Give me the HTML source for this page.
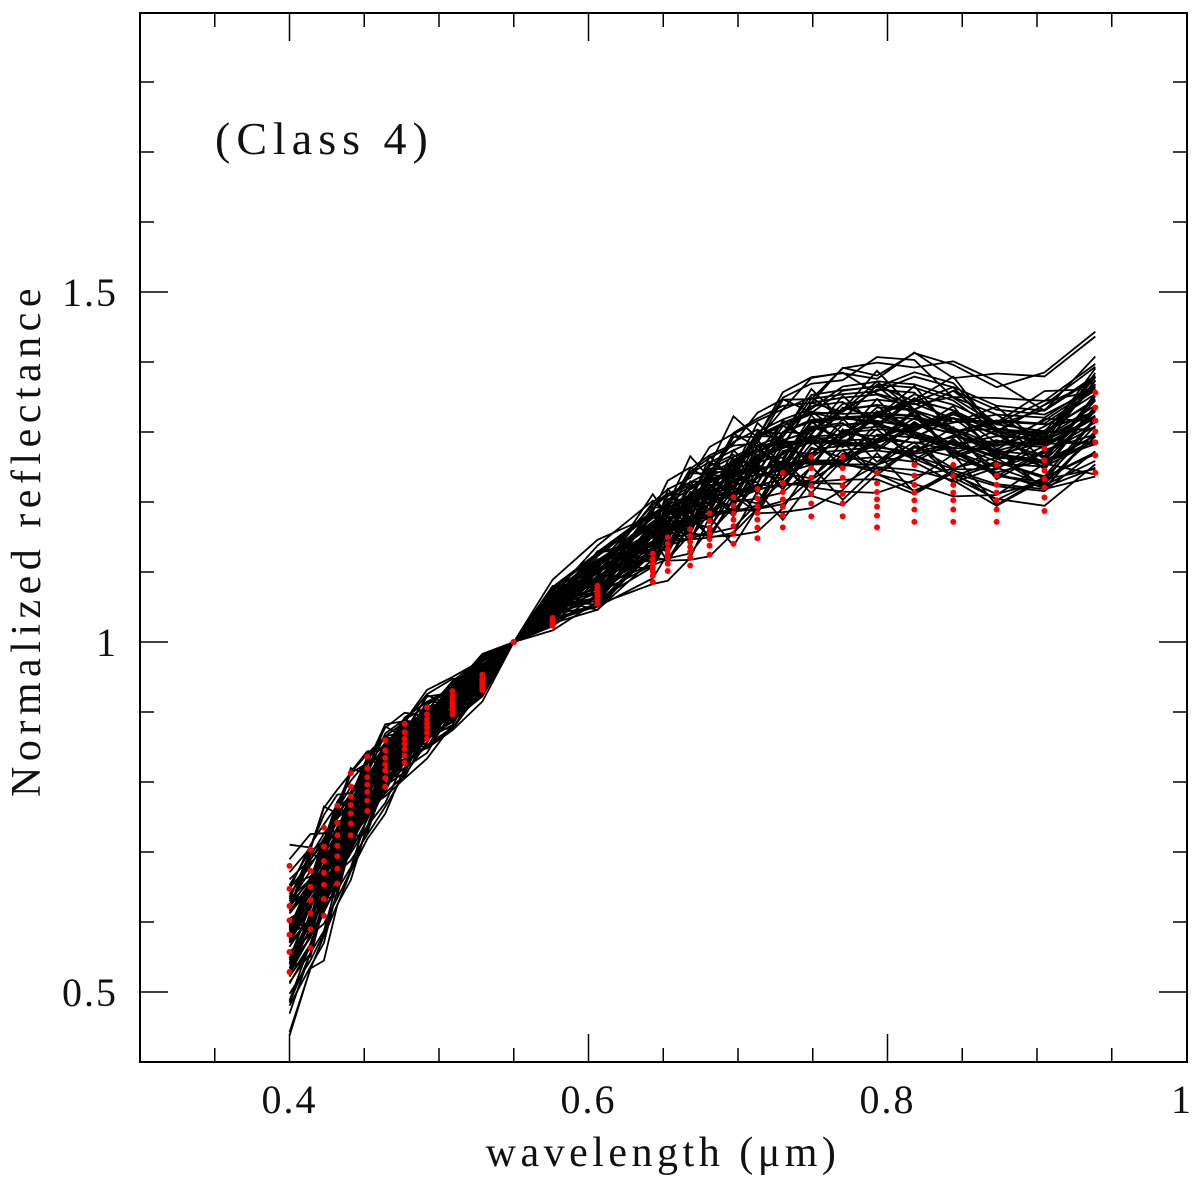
<!DOCTYPE html>
<html><head><meta charset="utf-8"><style>
body{margin:0;background:#fff;}
svg text{font-family:"Liberation Serif",serif;fill:#111;}
</style></head><body>
<svg id="c" width="1200" height="1184"></svg>
<script>
const wavelengths=[0.4,0.414,0.423,0.432,0.441,0.452,0.464,0.477,0.492,0.509,0.529,0.55,0.576,0.606,0.643,0.653,0.668,0.681,0.697,0.713,0.73,0.749,0.77,0.793,0.818,0.844,0.873,0.905,0.939];
const meanSpectrum=[0.57,0.62,0.66,0.70,0.74,0.78,0.82,0.85,0.88,0.91,0.95,1.0,1.05,1.09,1.15,1.17,1.19,1.21,1.23,1.25,1.27,1.29,1.30,1.31,1.31,1.30,1.28,1.28,1.33];
const dotSpectrum=[0.59,0.62,0.66,0.70,0.76,0.79,0.82,0.85,0.88,0.91,0.94,1.0,1.03,1.07,1.11,1.13,1.14,1.16,1.18,1.19,1.21,1.23,1.23,1.21,1.22,1.22,1.22,1.24,1.31];
const curveScales=[0.72,0.75,0.77,0.78,0.8,0.81,0.82,0.83,0.84,0.85,0.86,0.86,0.87,0.88,0.88,0.89,0.9,0.9,0.91,0.92,0.92,0.93,0.94,0.94,0.95,0.95,0.96,0.97,0.97,0.98,0.98,0.99,1.0,1.0,1.01,1.01,1.02,1.03,1.03,1.04,1.05,1.05,1.06,1.07,1.07,1.08,1.09,1.1,1.1,1.11,1.12,1.13,1.14,1.15,1.16,1.17,1.18,1.2,1.22,1.25,1.28,0.83,0.92,0.97,1.03,1.08,1.13,0.96,1.0,1.04];
const wiggle=[0.02,-0.015,0.01,-0.025,0.005,0.018,-0.008,-0.02,0.012,0.025,-0.012,0.0,0.015,-0.018,0.008,-0.005,0.022];
const dotScales=[0.78,0.86,0.92,0.97,1.02,1.08,1.15];
const xTicks=[0.4,0.6,0.8,1];
const xTickLabels=["0.4","0.6","0.8","1"];
const yTicks=[0.5,1,1.5];
const yTickLabels=["0.5","1","1.5"];
const X=v=>140+(v-0.3)*1495;
const Y=v=>1062-(v-0.4)*700;
const svg=document.getElementById('c');
const NS='http://www.w3.org/2000/svg';
function mk(t,a){const e=document.createElementNS(NS,t);for(const k in a)e.setAttribute(k,a[k]);svg.appendChild(e);return e;}
curveScales.forEach((k,j)=>{
  const pts=wavelengths.map((w,i)=>{
    const n=(i===11)?0:wiggle[(i*7+j*3)%wiggle.length]*(i>12?1.4:1);
    return X(w).toFixed(1)+','+Y(1+k*(meanSpectrum[i]-1)+n).toFixed(1);
  }).join(' ');
  const p=mk('polyline',{points:pts,fill:'none',stroke:'#000','stroke-width':1.8});
  
  
});
wavelengths.forEach((w,i)=>{
  dotScales.forEach(k=>{
    const c=mk('circle',{cx:X(w),cy:Y(1+k*(dotSpectrum[i]-1)),r:3,fill:'#f00'});
    
    
  });
});
const f=mk('rect',{x:140,y:13,width:1047,height:1049,fill:'none',stroke:'#000','stroke-width':2});


for(let v=0.35;v<1.0;v+=0.05){
  const major=Math.abs(v*10-Math.round(v*10))<0.01&&Math.round(v*10)%2===0;
  const L=major?28:14;
  mk('line',{x1:X(v),y1:1062,x2:X(v),y2:1062-L,stroke:'#000','stroke-width':1.5});
  mk('line',{x1:X(v),y1:13,x2:X(v),y2:13+L,stroke:'#000','stroke-width':1.5});
}
xTicks.forEach((v,i)=>{
  const t=mk('text',{x:Math.min(X(v),1182),y:1113,'font-size':40,'text-anchor':'middle','letter-spacing':2});
  t.textContent=xTickLabels[i];
  
  
});
for(let v=0.5;v<1.85;v+=0.1){
  const major=[0.5,1.0,1.5].some(m=>Math.abs(m-v)<0.01);
  const L=major?28:14;
  mk('line',{x1:140,y1:Y(v),x2:140+L,y2:Y(v),stroke:'#000','stroke-width':1.5});
  mk('line',{x1:1187,y1:Y(v),x2:1187-L,y2:Y(v),stroke:'#000','stroke-width':1.5});
}
yTicks.forEach((v,i)=>{
  const t=mk('text',{x:118,y:Y(v)+14,'font-size':40,'text-anchor':'end','letter-spacing':2});
  t.textContent=yTickLabels[i];
  
  
});
const xl=mk('text',{x:663,y:1166,'font-size':42,'text-anchor':'middle','letter-spacing':4.5});
xl.textContent='wavelength (\u03BCm)';


const yl=mk('text',{x:0,y:0,'font-size':42,'text-anchor':'middle','letter-spacing':5.5,transform:'translate(40,540) rotate(-90)'});
yl.textContent='Normalized reflectance';


const cl=mk('text',{x:215,y:154,'font-size':46,'letter-spacing':6});
cl.textContent='(Class 4)';


</script>
</body></html>
